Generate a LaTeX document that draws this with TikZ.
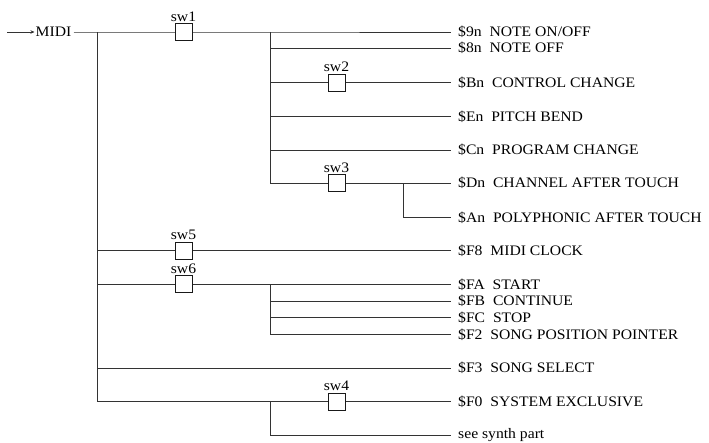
\documentclass[tikz,border=0pt]{standalone}
\usepackage{fontspec}
\setmainfont{Liberation Serif}
\usetikzlibrary{arrows.meta}
\newcommand{\wt}[1]{\scalebox{1.08}[1]{#1}}
\begin{document}
\begin{tikzpicture}[x=1pt,y=-1pt,
  wire/.style={draw=black!80,line width=0.9pt},
  swbox/.style={draw=black!90,fill=white,line width=0.9pt,minimum size=17pt,inner sep=0pt},
  lab/.style={anchor=west,inner xsep=7pt,inner ysep=0pt,text height=9.5pt,text depth=0pt,font=\fontsize{14.5}{16}\selectfont},
  swlab/.style={anchor=base,inner sep=0pt,font=\fontsize{14.5}{16}\selectfont}
]
\useasboundingbox (0,0) rectangle (709,442);

% input
\coordinate (in) at (7,32);
\node[lab,inner xsep=0pt,anchor=west] (midi) at (35.5,32) {\wt{MIDI}};
\draw[wire,-{Stealth[length=4pt,width=3.5pt]}] (in) -- ([xshift=-1pt]midi.west);

% junctions
\coordinate (t0) at (97.5,32);
\coordinate (t1) at (97.5,250.5);
\coordinate (t2) at (97.5,284.3);
\coordinate (t3) at (97.5,368);
\coordinate (t4) at (97.5,401.5);
\coordinate (a0) at (270,32);
\coordinate (a1) at (270,48);
\coordinate (a2) at (270,82.5);
\coordinate (a3) at (270,116.5);
\coordinate (a4) at (270,150);
\coordinate (a5) at (270,183);
\coordinate (b0) at (403,183);
\coordinate (b1) at (403,217.7);
\coordinate (c0) at (270,284.3);
\coordinate (c1) at (270,301);
\coordinate (c2) at (270,317.7);
\coordinate (c3) at (270,334.3);
\coordinate (d0) at (270,401.5);
\coordinate (d1) at (270,435);

% labels
\node[lab] (l9) at (451,32) {\wt{\$9n\ \ NOTE ON/OFF}};
\node[lab] (l8) at (451,48) {\wt{\$8n\ \ NOTE OFF}};
\node[lab] (lB) at (451,82.5) {\wt{\$Bn\ \ CONTROL CHANGE}};
\node[lab] (lE) at (451,116.5) {\wt{\$En\ \ PITCH BEND}};
\node[lab] (lC) at (451,150) {\wt{\$Cn\ \ PROGRAM CHANGE}};
\node[lab] (lD) at (451,183) {\wt{\$Dn\ \ CHANNEL AFTER TOUCH}};
\node[lab] (lA) at (451,217.7) {\wt{\$An\ \ POLYPHONIC AFTER TOUCH}};
\node[lab] (lF8) at (451,250.5) {\wt{\$F8\ \ MIDI CLOCK}};
\node[lab] (lFA) at (451,284.3) {\wt{\$FA\ \ START}};
\node[lab] (lFB) at (451,301) {\wt{\$FB\ \ CONTINUE}};
\node[lab] (lFC) at (451,317.7) {\wt{\$FC\ \ STOP}};
\node[lab] (lF2) at (451,334.3) {\wt{\$F2\ \ SONG POSITION POINTER}};
\node[lab] (lF3) at (451,368) {\wt{\$F3\ \ SONG SELECT}};
\node[lab] (lF0) at (451,401.5) {\wt{\$F0\ \ SYSTEM EXCLUSIVE}};
\node[lab,text height=6.7pt] (lsy) at (451,435) {\wt{see synth part}};

% wires
\draw[wire] (t0) -- (t4);
\draw[wire] (a0) -- (a5);
\draw[wire] (c0) -- (c3);
\draw[wire] (d0) -- (d1);
\draw[wire] (b0) -- (b1);
\draw[wire] ([xshift=2pt]midi.east) -- (a0) -- (l9.west);
\draw[wire] (a1) -- (l8.west);
\draw[wire] (a2) -- (lB.west);
\draw[wire] (a3) -- (lE.west);
\draw[wire] (a4) -- (lC.west);
\draw[wire] (a5) -- (lD.west);
\draw[wire] (b1) -- (lA.west);
\draw[wire] (t1) -- (lF8.west);
\draw[wire] (t2) -- (lFA.west);
\draw[wire] (c1) -- (lFB.west);
\draw[wire] (c2) -- (lFC.west);
\draw[wire] (c3) -- (lF2.west);
\draw[wire] (t3) -- (lF3.west);
\draw[wire] (t4) -- (lF0.west);
\draw[wire] (d1) -- (lsy.west);

% switches
\node[swbox] (sw1) at (183.5,32) {};
\node[swbox] (sw2) at (336.5,82.5) {};
\node[swbox] (sw3) at (336.5,183) {};
\node[swbox] (sw5) at (183.5,250.5) {};
\node[swbox] (sw6) at (183.5,284.3) {};
\node[swbox] (sw4) at (336.5,401.5) {};
\foreach \s in {1,2,3,4,5,6}{
  \node[swlab] (sw\s l) at ([yshift=2pt]sw\s.north) {\wt{sw\s}};
}
\end{tikzpicture}
\end{document}
